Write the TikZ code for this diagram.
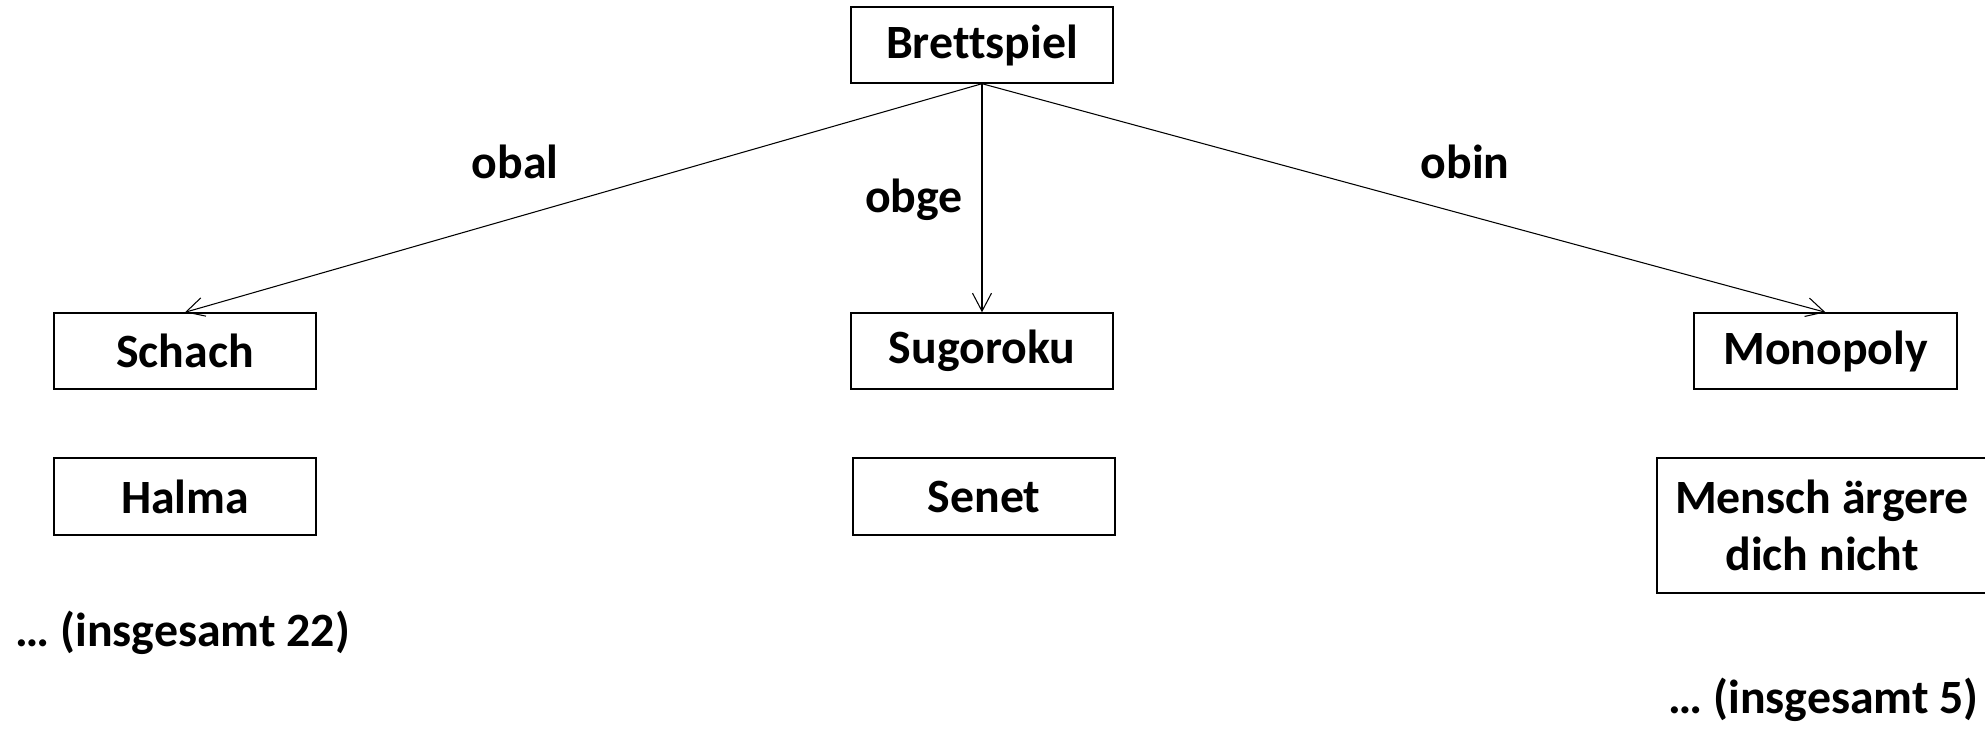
\documentclass[tikz,border=0pt]{standalone}
\usepackage{fontspec}
\setmainfont[Ligatures=NoCommon]{Carlito}
\usepackage{xcolor}
\usetikzlibrary{arrows.meta}
\usetikzlibrary{calc}

\tikzset{
    game/.style={draw, line width=0.4pt, inner sep=0pt, minimum width=2.62cm, minimum height=0.76cm, align=center},
    rel/.style={line width=0.3pt, -{Straight Barb[length=1.8mm, width=1.9mm]}},
    lbl/.style={inner sep=0pt}
}

\begin{document}
\begin{tikzpicture}[font=\fontsize{13.6}{16.2}\selectfont\bfseries]
    % Fix the picture size
    \useasboundingbox (0,0) rectangle (19.85,7.38);

    % Top node
    \node[game] (brett) at (9.82,6.93) {Brettspiel};

    % First row of games
    \node[game] (schach) at (1.85,3.87) {Schach};
    \node[game] (sugoroku) at (9.82,3.87) {Sugoroku};
    \node[game, minimum width=2.63cm] (monopoly) at (18.255,3.87) {Monopoly};

    % Second row of games
    \node[game, minimum height=0.77cm] (halma) at (1.85,2.415) {Halma};
    \node[game, minimum height=0.77cm] (senet) at (9.84,2.415) {Senet};
    \node[game, minimum width=3.30cm, minimum height=1.35cm] (mensch) at (18.22,2.125) {Mensch ärgere\\dich nicht};

    % Counts below
    \node[lbl, anchor=west] (rest1) at (0.15,1.05) {… (insgesamt 22)};
    \node[lbl, anchor=west] (rest2) at (16.68,0.38) {… (insgesamt 5)};

    % Relations
    \draw[rel] (brett.south) -- (schach.north);
    \draw[rel] (brett.south) -- (sugoroku.north);
    \draw[rel] (brett.south) -- (monopoly.north);

    % Relation labels
    \node[lbl] (obal) at (5.15,5.76) {obal};
    \node[lbl] (obge) at (9.14,5.38) {obge};
    \node[lbl] (obin) at (14.65,5.76) {obin};
\end{tikzpicture}
\end{document}
